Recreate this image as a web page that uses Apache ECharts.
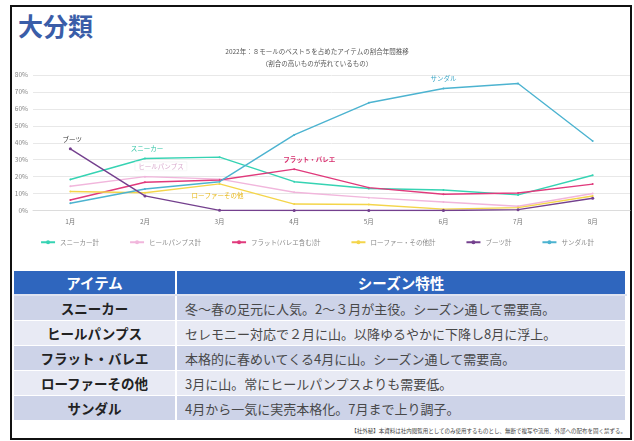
<!DOCTYPE html>
<html>
<head>
<meta charset="utf-8">
<script src="https://cdn.jsdelivr.net/npm/echarts@6/dist/echarts.min.js"></script>
<style>
  html, body { margin: 0; padding: 0; background: #fff; font-family: "Noto Sans CJK JP", "Noto Sans", sans-serif; }
  #slide { position: relative; width: 634px; height: 441px; overflow: hidden; }
  #frame { position: absolute; left: 10px; top: 5px; width: 618px; height: 431px; border: 2px solid #111; }
  #heading { position: absolute; left: 18px; top: 7px; font-size: 25px; font-weight: bold; color: #3a5da8; }
  #chart { position: absolute; left: 0; top: 0; width: 634px; height: 265px; }
  #tbl { position: absolute; left: 14px; top: 271px; width: 613px; border-collapse: collapse; table-layout: fixed; }
  #tbl th { background: #2f66be; color: #fff; font-size: 14.5px; height: 23px; padding: 0; border-right: 2px solid #fff; border-bottom: 2px solid #dfe3f0; }
  #tbl td { height: 24px; padding: 0; border-right: 2px solid #fff; border-bottom: 1px solid #fff; color: #333; font-size: 13.5px; }
  #tbl td.item { text-align: center; font-weight: bold; color: #222; }
  #tbl td.note { padding-left: 8px; color: #484848; font-size: 13px; }
  #tbl tr.odd td { background: #cdd3e8; }
  #tbl tr.even td { background: #e8eaf4; }
  #foot { position: absolute; right: 8px; top: 427px; font-size: 5.5px; color: #444; white-space: nowrap; }
</style>
</head>
<body>
<div id="slide">
  <div id="frame"></div>
  <div id="heading">大分類</div>
  <div id="chart"></div>
  <table id="tbl"></table>
  <div id="foot">【社外秘】本資料は社内閲覧用としてのみ使用するものとし、無断で複写や流用、外部への配布を固く禁ずる。</div>
</div>
<script>
// 月
const months = ['1月', '2月', '3月', '4月', '5月', '6月', '7月', '8月']
const seriesNames = ['スニーカー計', 'ヒールパンプス計', 'フラット(バレエ含む)計', 'ローファー・その他計', 'ブーツ計', 'サンダル計']
// 割合 (%)
const sneaker = [18.3, 30.7, 31.5, 17.0, 13.0, 12.1, 9.2, 20.8]
const heel = [14.3, 20.0, 18.5, 10.8, 7.6, 5.0, 2.5, 10.0]
const flat = [6.2, 16.7, 18.0, 24.4, 13.5, 9.6, 10.3, 15.6]
const loafer = [11.2, 10.5, 15.7, 3.8, 3.5, 0.8, 1.7, 8.6]
const boots = [36.4, 8.6, 0.1, 0.0, 0.0, 0.0, 0.5, 7.2]
const sandal = [4.3, 12.7, 17.0, 44.6, 63.6, 72.0, 75.0, 41.0]
const yTicks = [0, 80, 10]  // min, max, interval

// グラフ上のラベル
const labelNames = ['スニーカー', 'ヒールパンプス', 'フラット・バレエ', 'ローファーその他', 'ブーツ', 'サンダル']
const labelAt = [1, 1, 3, 2, 0, 5]

// table
const items = ['スニーカー', 'ヒールパンプス', 'フラット・バレエ', 'ローファーその他', 'サンダル']
const notes = [
  '冬～春の足元に人気。2～３月が主役。シーズン通して需要高。',
  'セレモニー対応で２月に山。以降ゆるやかに下降し8月に浮上。',
  '本格的に春めいてくる4月に山。シーズン通して需要高。',
  '3月に山。常にヒールパンプスよりも需要低。',
  '4月から一気に実売本格化。7月まで上り調子。'
]

const colors = ['#36d3b3', '#f1b6dc', '#e03a7c', '#f4d54a', '#74408e', '#4cb3d0']
const labelStyle = [
  { color: '#2fc4a4', position: 'top', offset: [2, -1] },
  { color: '#d8a8cc', position: 'top', offset: [16, 0], backgroundColor: 'rgba(255,255,255,0.85)', borderColor: '#eee', borderWidth: 0.5, padding: [1, 3] },
  { color: '#d8306f', position: 'top', offset: [15, 0], fontWeight: 'bold' },
  { color: '#e8b818', position: 'bottom', offset: [-2, 2] },
  { color: '#333', position: 'top', offset: [2, 0] },
  { color: '#3aa6c6', position: 'top', offset: [0, -1] }
]

let rows = '<colgroup><col style="width:162px"><col></colgroup><tr><th>アイテム</th><th>シーズン特性</th></tr>'
for (let i = 0; i < items.length; i++) {
  rows += '<tr class="' + (i % 2 === 0 ? 'odd' : 'even') + '"><td class="item">' + items[i] + '</td><td class="note">' + notes[i] + '</td></tr>'
}
document.getElementById('tbl').innerHTML = rows

const allValues = [sneaker, heel, flat, loafer, boots, sandal]
const series = allValues.map((vals, s) => {
  const data = vals.map((v, i) => {
    if (i !== labelAt[s]) return v
    return {
      value: v,
      label: Object.assign({ show: true, formatter: labelNames[s], fontSize: 6.5 }, labelStyle[s])
    }
  })
  return {
    name: seriesNames[s],
    type: 'line',
    data: data,
    color: colors[s],
    lineStyle: { width: 1.4 },
    symbol: 'circle',
    symbolSize: s === 4 ? 3 : 2,
    showSymbol: true,
    z: s === 4 ? 3 : 2
  }
})

var myChart = echarts.init(document.getElementById('chart'))
const option = {
  animation: false,
  textStyle: { fontFamily: '"Noto Sans CJK JP", sans-serif' },
  title: {
    text: '2022年：８モールのベスト５を占めたアイテムの割合年間推移\n（割合の高いものが売れているもの）',
    left: 'center',
    top: 41,
    textStyle: { fontSize: 6.5, fontWeight: 'normal', color: '#555', lineHeight: 12, align: 'center' }
  },
  legend: {
    top: 234,
    left: 'center',
    itemGap: 30,
    itemWidth: 14,
    itemHeight: 5,
    textStyle: { fontSize: 6.5, color: '#8a8a8a' },
    data: seriesNames
  },
  grid: { left: 33, right: 4, top: 75, bottom: 54.5 },
  xAxis: {
    type: 'category',
    data: months,
    boundaryGap: true,
    axisLine: { show: true, lineStyle: { color: '#dcdcdc' } },
    axisTick: { show: false },
    axisLabel: { fontSize: 6.5, color: '#777', margin: 8 }
  },
  yAxis: {
    type: 'value',
    min: yTicks[0],
    max: yTicks[1],
    interval: yTicks[2],
    axisLine: { show: false },
    axisTick: { show: false },
    splitLine: { lineStyle: { color: '#e8e8e8' } },
    axisLabel: { fontSize: 6.5, color: '#888', margin: 5, formatter: '{value}%' }
  },
  series: series
}
myChart.setOption(option)
</script>
</body>
</html>
